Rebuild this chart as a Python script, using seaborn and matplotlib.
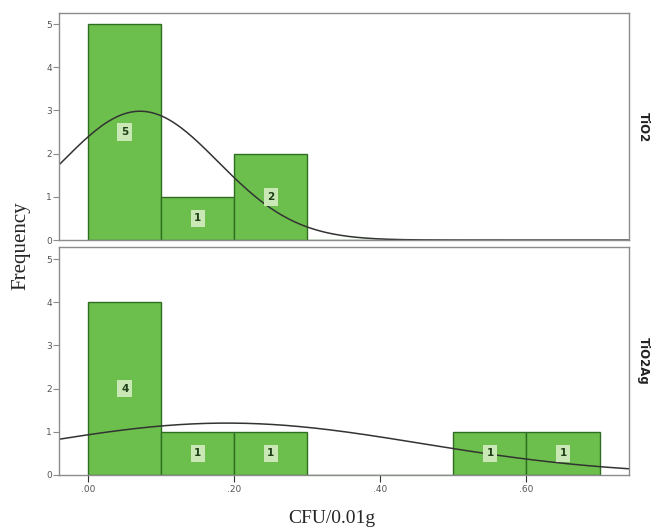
import numpy as np
import matplotlib
matplotlib.use("Agg")
import matplotlib.pyplot as plt
import seaborn as sns

# histogram bins (CFU/0.01g) and counts per group
bin_edges = [0.0, 0.1, 0.2, 0.3, 0.4, 0.5, 0.6, 0.7]
groups = ["TiO2", "TiO2Ag"]
counts_tio2 = [5, 1, 2, 0, 0, 0, 0]
counts_tio2ag = [4, 1, 1, 0, 0, 1, 1]
# normal curve parameters
curve_mean = [0.071, 0.19]
curve_sd = [0.107, 0.266]
x_ticks = [0.0, 0.2, 0.4, 0.6]
x_tick_labels = [".00", ".20", ".40", ".60"]
y_ticks = [0, 1, 2, 3, 4, 5]

sns.set_style("white")
plt.rcParams['font.family'] = ['DejaVu Sans']

bar_color = "#6cbf4c"
edge_color = "#2f6e22"
frame_color = "#8c8c8c"

fig = plt.figure(figsize=(6.64, 5.30), dpi=100)
ax_top = fig.add_axes([0.0889, 0.547, 0.858, 0.428])
ax_bot = fig.add_axes([0.0889, 0.104, 0.858, 0.430])

mids = [(a + b) / 2 for a, b in zip(bin_edges[:-1], bin_edges[1:])]
binw = bin_edges[1] - bin_edges[0]
xs = np.linspace(-0.04, 0.74, 300)

for ax, counts, name, mu, sd, ytop in zip(
        [ax_top, ax_bot], [counts_tio2, counts_tio2ag], groups,
        curve_mean, curve_sd, [5.25, 5.28]):
    sns.histplot(x=mids, weights=counts, bins=bin_edges, ax=ax,
                 color=bar_color, edgecolor=edge_color, linewidth=1.0, alpha=1)
    n = sum(counts)
    ys = n * binw / (sd * np.sqrt(2 * np.pi)) * np.exp(-(xs - mu) ** 2 / (2 * sd ** 2))
    sns.lineplot(x=xs, y=ys, ax=ax, color="#333333", linewidth=1.1)
    for m, c in zip(mids, counts):
        if c > 0:
            ax.text(m, c / 2, str(c), ha="center", va="center", fontsize=7.5,
                    fontweight="bold", color="#1f3f18",
                    bbox=dict(boxstyle="square,pad=0.35", fc="#c9e8b6",
                              ec="none"))
    ax.set_xlim(-0.04, 0.74)
    ax.set_ylim(0, ytop)
    ax.set_yticks(y_ticks)
    ax.set_ylabel("")
    ax.tick_params(axis="y", left=True, length=4, width=0.8, color=frame_color,
                   labelsize=6.5, labelcolor="#555555", pad=1)
    for s in ax.spines.values():
        s.set_color(frame_color)
        s.set_linewidth(1.0)
    ax.text(1.025, 0.5, name, transform=ax.transAxes, rotation=-90,
            ha="center", va="center", fontsize=8.5, fontweight="bold",
            color="#222222")

ax_top.set_xticks([])
ax_top.set_xlabel("")
ax_bot.set_xticks(x_ticks)
ax_bot.set_xticklabels(x_tick_labels)
ax_bot.tick_params(axis="x", bottom=True, length=5, width=0.8,
                   color="#333333", labelsize=6.5, labelcolor="#555555", pad=2)
ax_bot.set_xlabel("")

fig.text(0.5, 0.022, "CFU/0.01g", ha="center", va="center",
         fontsize=14, family="Liberation Serif")
fig.text(0.032, 0.537, "Frequency", ha="center", va="center", rotation=90,
         fontsize=15, family="Liberation Serif")

fig.savefig("out.png", dpi=100)
